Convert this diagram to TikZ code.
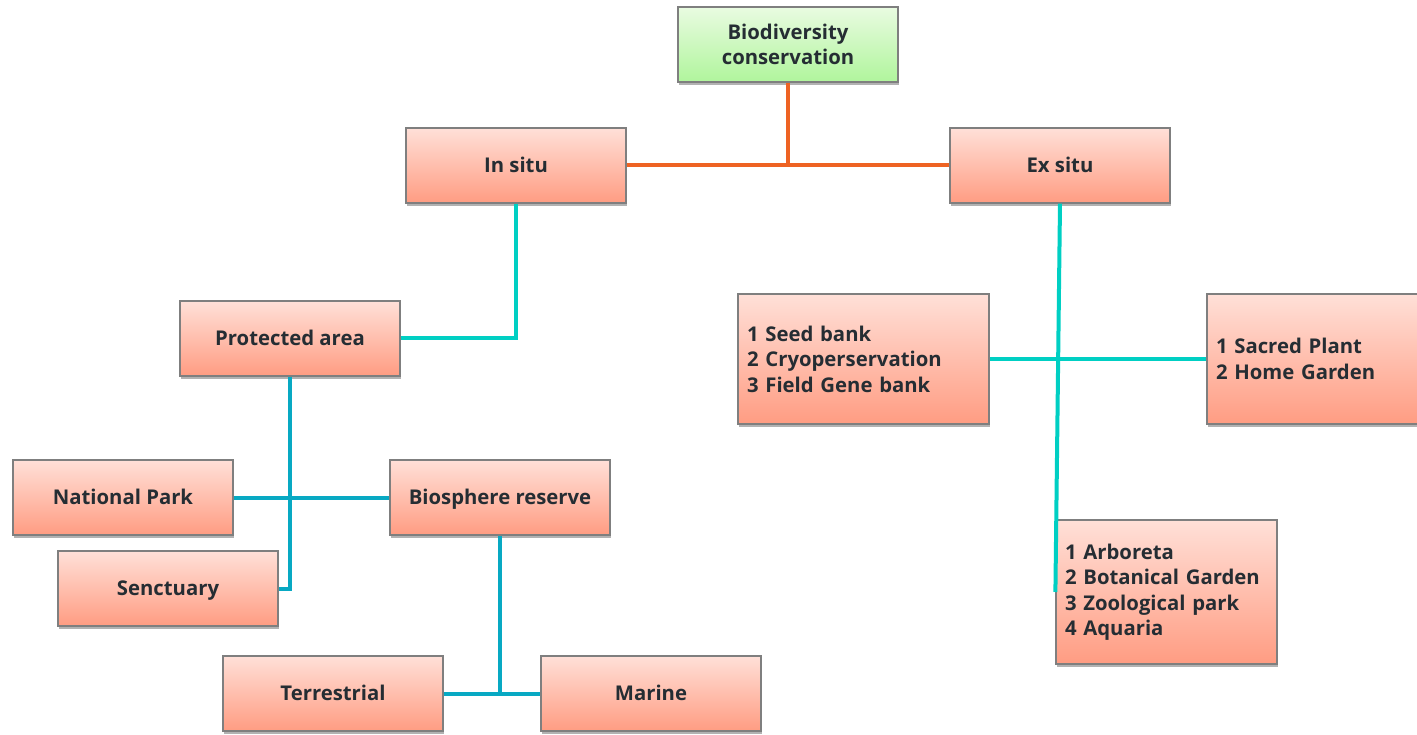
\documentclass[tikz,border=0pt]{standalone}
\usepackage{fontspec}
\setmainfont{Open Sans}
\usetikzlibrary{shadows}
\definecolor{pinktop}{HTML}{FFE0D8}
\definecolor{pinkbot}{HTML}{FF9C82}
\definecolor{greentop}{HTML}{E9FBE1}
\definecolor{greenbot}{HTML}{B0F59C}
\definecolor{boxline}{HTML}{7F7F7F}
\definecolor{txt}{HTML}{252D33}
\definecolor{orangeline}{HTML}{EE6323}
\definecolor{lteal}{HTML}{00CFC3}
\definecolor{dteal}{HTML}{08A9C3}
\tikzset{
  basebox/.style={draw=boxline, line width=1.2pt, inner sep=0pt, text=txt,
    font=\fontsize{20.3}{25.5}\selectfont\bfseries,
    drop shadow={shadow xshift=1pt, shadow yshift=-3pt, opacity=0.3, fill=black}},
  pinkbox/.style={basebox, top color=pinktop, bottom color=pinkbot,
    minimum width=220pt, minimum height=75pt, align=center,
    text height=14.5pt, text depth=0pt},
  greenbox/.style={basebox, top color=greentop, bottom color=greenbot,
    minimum width=220pt, minimum height=75pt, align=center},
  listbox/.style={basebox, top color=pinktop, bottom color=pinkbot,
    inner xsep=9pt, align=left},
  orangeconn/.style={draw=orangeline, line width=4pt},
  ltealconn/.style={draw=lteal, line width=4pt},
  dtealconn/.style={draw=dteal, line width=4pt}
}
\begin{document}
\begin{tikzpicture}[x=1pt,y=-1pt]
\useasboundingbox (0,0) rectangle (1417,735);
\clip (0,0) rectangle (1417,735);
\node[greenbox] (bio) at (788,44.5) {Biodiversity\\conservation};
\node[pinkbox] (insitu) at (516,165.5) {In situ};
\node[pinkbox] (exsitu) at (1060,165.5) {Ex situ};
\node[pinkbox] (prot) at (290,338.5) {Protected area};
\node[listbox, text width=233pt, minimum height=130pt] (seed) at (863.5,359) {1 Seed bank\\2 Cryoperservation\\3 Field Gene bank};
\node[listbox, text width=202pt, minimum height=130pt] (sacred) at (1317,359) {1 Sacred Plant\\2 Home Garden};
\node[pinkbox] (natpark) at (123,497.5) {National Park};
\node[pinkbox] (bios) at (500,497.5) {Biosphere reserve};
\node[pinkbox] (senct) at (168,588.5) {Senctuary};
\node[listbox, text width=203pt, minimum height=144pt] (arbor) at (1166.5,592) {1 Arboreta\\2 Botanical Garden\\3 Zoological park\\4 Aquaria};
\node[pinkbox] (terr) at (333,693.5) {Terrestrial};
\node[pinkbox] (marine) at (651,693.5) {Marine};
% connectors
\draw[orangeconn] (insitu.east) -- (exsitu.west);
\draw[orangeconn] (bio.south) -- (bio.south |- insitu.east);
\draw[ltealconn] (insitu.south) |- (prot.east);
\draw[dtealconn] (prot.south) |- (senct.east);
\draw[dtealconn] (natpark.east) -- (bios.west);
\draw[dtealconn] (terr.east) -- (marine.west);
\draw[dtealconn] (bios.south) -- (bios.south |- terr.east);
\draw[ltealconn] (exsitu.south) -- (arbor.west);
\draw[ltealconn] (seed.east) -- (sacred.west);
\end{tikzpicture}
\end{document}
